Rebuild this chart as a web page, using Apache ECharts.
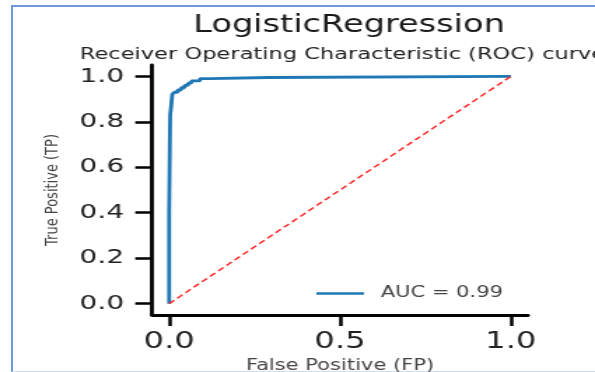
<!DOCTYPE html>
<html>
<head>
<meta charset="utf-8">
<script src="https://cdn.jsdelivr.net/npm/echarts@6/dist/echarts.min.js"></script>
<style>
  html, body { margin:0; padding:0; background:#fff; width:595px; height:372px; overflow:hidden; }
  #frame { position:absolute; left:11px; top:5px; width:600px; height:364px;
           border-top:2px solid #6f98d6; border-left:2px solid #6f98d6; border-bottom:1px solid #d3dde9; }
  #c { position:absolute; left:0; top:0; width:425px; height:372px; transform:scaleX(1.4); transform-origin:0 0; }
</style>
</head>
<body>
<div id="frame"></div>
<div id="c"></div>
<script>
// ---- data ----
const titleText = 'LogisticRegression';
const subtitleText = 'Receiver Operating Characteristic (ROC) curve';
const legendLabel = 'AUC = 0.99';
const xAxisName = 'False Positive (FP)';
const yAxisName = 'True Positive (TP)';
const xTicks = [0.0, 0.5, 1.0];
const yTicks = [0.0, 0.2, 0.4, 0.6, 0.8, 1.0];
const fpr = [0, 0, 0.003, 0.003, 0.006, 0.006, 0.009, 0.009, 0.015, 0.015, 0.025, 0.025, 0.035, 0.035,
             0.045, 0.045, 0.055, 0.055, 0.065, 0.065, 0.09, 0.09, 0.12, 0.12, 0.29, 0.29, 1.0];
const tpr = [0, 0.40, 0.40, 0.83, 0.83, 0.87, 0.87, 0.92, 0.92, 0.93, 0.93, 0.94, 0.94, 0.95,
             0.95, 0.96, 0.96, 0.97, 0.97, 0.98, 0.98, 0.99, 0.99, 0.995, 0.995, 1.0, 1.0];
const diagX = [0, 1];
const diagY = [0, 1];

const FONT = 'DejaVu Sans';
const chart = echarts.init(document.getElementById('c'));
chart.setOption({
  animation: false,
  backgroundColor: 'transparent',
  title: [
    { text: titleText, left: 133, top: 9,
      textStyle: { fontFamily: FONT, fontSize: 24, fontWeight: 'normal', color: '#1a1a1a' } },
    { text: subtitleText, left: 52, top: 42,
      textStyle: { fontFamily: FONT, fontSize: 16.1, fontWeight: 'normal', color: '#222' } }
  ],
  legend: {
    data: [legendLabel], left: 221, top: 281,
    icon: 'rect', itemWidth: 34, itemHeight: 2.5,
    textStyle: { fontFamily: FONT, fontSize: 15, color: '#444', padding: [0, 0, 0, 7] }
  },
  grid: { left: 108.6, right: 47.9, top: 65, bottom: 57, outerBoundsMode: 'none', containLabel: false },
  xAxis: {
    type: 'value', min: -0.05, max: 1.05,
    name: xAxisName, nameLocation: 'middle', nameGap: 43,
    nameTextStyle: { fontFamily: FONT, fontSize: 15, color: '#444' },
    axisLine: { show: true, onZero: false, lineStyle: { color: '#000', width: 2.8 } },
    axisTick: { show: true, customValues: xTicks, length: 11, lineStyle: { color: '#000', width: 2.5 } },
    axisLabel: { customValues: xTicks, margin: 16, fontFamily: FONT, fontSize: 23, color: '#222',
                 formatter: v => v.toFixed(1) },
    splitLine: { show: false }
  },
  yAxis: {
    type: 'value', min: -0.05, max: 1.05,
    name: yAxisName, nameLocation: 'middle', nameGap: 64, nameRotate: 90,
    nameTextStyle: { fontFamily: FONT, fontSize: 13, color: '#444' },
    axisLine: { show: true, onZero: false, lineStyle: { color: '#000', width: 2.8 } },
    axisTick: { show: true, customValues: yTicks, length: 12, lineStyle: { color: '#000', width: 2.5 } },
    axisLabel: { customValues: yTicks, margin: 20, fontFamily: FONT, fontSize: 20, color: '#222',
                 formatter: v => v.toFixed(1) },
    splitLine: { show: false }
  },
  series: [
    { name: legendLabel, type: 'line', showSymbol: false, symbol: 'none', z: 2,
      data: fpr.map((x, i) => [x, tpr[i]]),
      lineStyle: { color: '#1f77b4', width: 2.8 }, itemStyle: { color: '#1f77b4' } },
    { name: 'diag', type: 'line', showSymbol: false, symbol: 'none', z: 3,
      data: diagX.map((x, i) => [x, diagY[i]]),
      lineStyle: { color: '#ff2020', width: 1.4, type: [5, 3] } }
  ]
});
</script>
</body>
</html>
